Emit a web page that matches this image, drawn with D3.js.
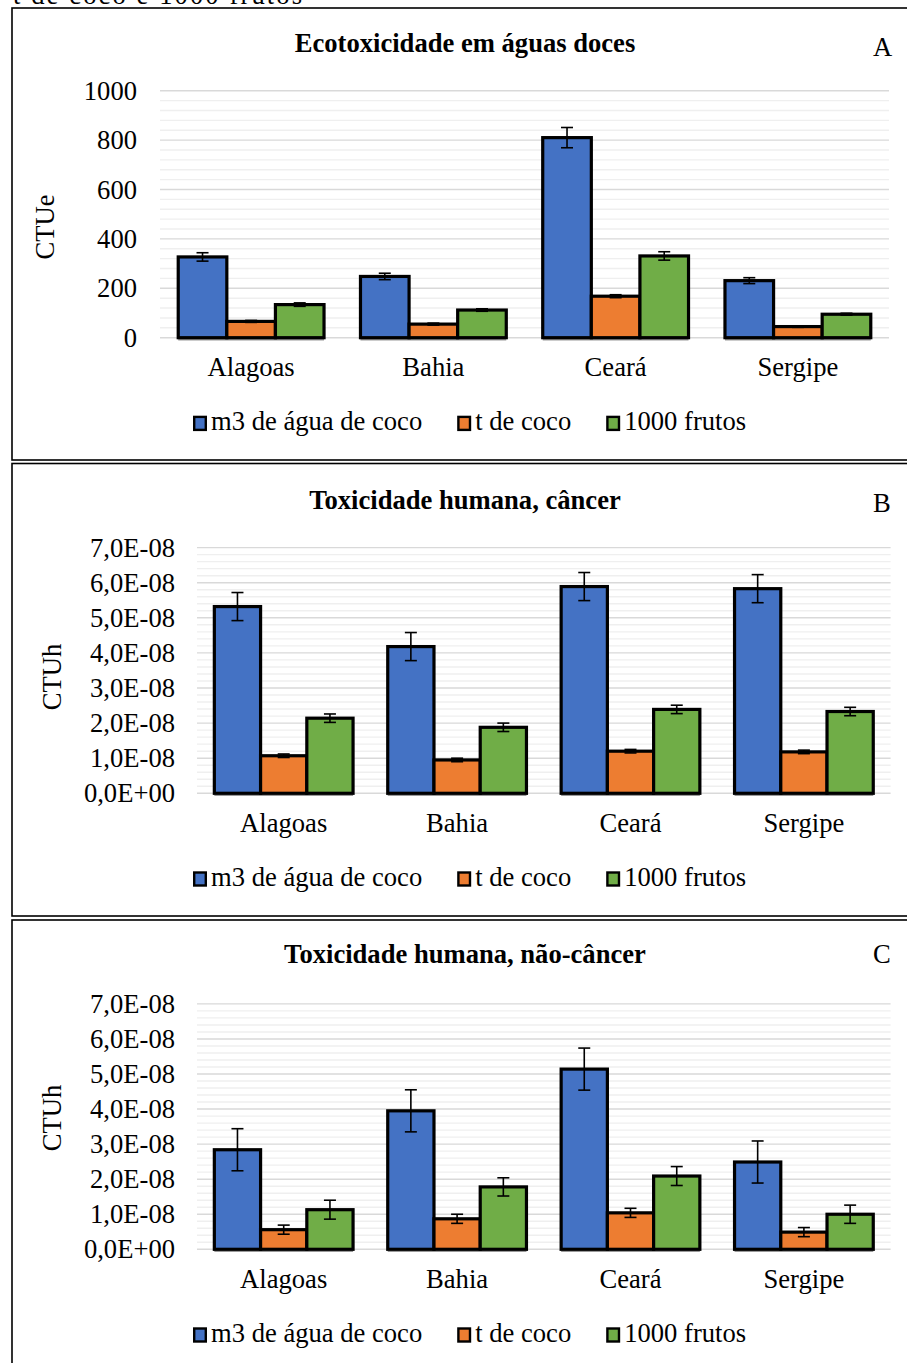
<!DOCTYPE html>
<html><head><meta charset="utf-8">
<script src="https://cdn.jsdelivr.net/npm/d3@7"></script>
<style>
body{margin:0;background:#fff}
svg{display:block}
text{font-family:"Liberation Serif","Times New Roman",serif;fill:#000}
</style>
</head><body>
<svg id="c" width="907" height="1363"></svg>
<script>
// ---------- data ----------
const categories = ["Alagoas", "Bahia", "Ceará", "Sergipe"];
const seriesNames = ["m3 de água de coco", "t de coco", "1000 frutos"];
const seriesColors = ["#4472C4", "#ED7D31", "#70AD47"];

// A: Ecotoxicidade em águas doces (CTUe)
const ecoM3 = [327, 248, 810, 231];
const ecoM3Err = [17, 13, 41, 12];
const ecoT = [66, 55, 168, 45];
const ecoTErr = [4, 4, 6, 3];
const ecoFrutos = [134, 112, 331, 95];
const ecoFrutosErr = [7, 5, 17, 4];
const ecoTicks = [0, 200, 400, 600, 800, 1000];
const ecoMinorTicks = d3.range(0, 1001, 40);

// B: Toxicidade humana, câncer (CTUh)
const canM3 = [5.32e-8, 4.18e-8, 5.89e-8, 5.83e-8];
const canM3Err = [0.40e-8, 0.40e-8, 0.40e-8, 0.40e-8];
const canT = [1.07e-8, 0.95e-8, 1.20e-8, 1.18e-8];
const canTErr = [0.05e-8, 0.05e-8, 0.05e-8, 0.05e-8];
const canFrutos = [2.14e-8, 1.88e-8, 2.39e-8, 2.33e-8];
const canFrutosErr = [0.12e-8, 0.12e-8, 0.12e-8, 0.12e-8];

// C: Toxicidade humana, não-câncer (CTUh)
const ncM3 = [2.84e-8, 3.95e-8, 5.14e-8, 2.49e-8];
const ncM3Err = [0.60e-8, 0.60e-8, 0.60e-8, 0.60e-8];
const ncT = [0.56e-8, 0.87e-8, 1.04e-8, 0.49e-8];
const ncTErr = [0.13e-8, 0.13e-8, 0.13e-8, 0.13e-8];
const ncFrutos = [1.13e-8, 1.78e-8, 2.09e-8, 1.00e-8];
const ncFrutosErr = [0.27e-8, 0.26e-8, 0.27e-8, 0.26e-8];

const humTicks = [0, 1e-8, 2e-8, 3e-8, 4e-8, 5e-8, 6e-8, 7e-8];
const humMinorTicks = d3.range(0, 36).map(i => i * 0.2e-8);

const titles = ["Ecotoxicidade em águas doces", "Toxicidade humana, câncer", "Toxicidade humana, não-câncer"];
const letters = ["A", "B", "C"];
const axisTitles = ["CTUe", "CTUh", "CTUh"];
const captionText = "t de coco e 1000 frutos";

// ---------- helpers ----------
function sciFmt(d) {
  const s = d.toExponential(1); // e.g. "7.0e-8"
  const [m, e] = s.split("e");
  const n = parseInt(e, 10);
  const sign = n < 0 ? "-" : "+";
  const ab = String(Math.abs(n)).padStart(2, "0");
  return m.replace(".", ",") + "E" + sign + ab;
}

const FS = 26.6;
const svg = d3.select("#c");
svg.append("rect").attr("width", 907).attr("height", 1363).attr("fill", "#fff");

// caption cut at top (as in the reference)
svg.append("text").attr("x", 13).attr("y", 4).attr("font-size", FS)
  .attr("textLength", 289).attr("lengthAdjust", "spacing").text(captionText);

const panels = [
  {
    box: [12, 8, 1000, 452],
    plot: {x0: 160, x1: 889, yb: 337.7, yt: 90.7},
    domain: [0, 1000], ticks: ecoTicks, minor: ecoMinorTicks, fmt: d => String(d),
    tickRight: 137, axisTitlePos: [54, 227],
    titleY: 52, letterY: 56,
    vals: [ecoM3, ecoT, ecoFrutos], errs: [ecoM3Err, ecoTErr, ecoFrutosErr]
  },
  {
    box: [12, 463.5, 1000, 452.5],
    plot: {x0: 197, x1: 890.6, yb: 793.3, yt: 547.6},
    domain: [0, 7e-8], ticks: humTicks, minor: humMinorTicks, fmt: sciFmt,
    tickRight: 175, axisTitlePos: [61, 677],
    titleY: 509, letterY: 512,
    vals: [canM3, canT, canFrutos], errs: [canM3Err, canTErr, canFrutosErr]
  },
  {
    box: [12, 920, 1000, 600],
    plot: {x0: 197, x1: 890.6, yb: 1249.3, yt: 1003.9},
    domain: [0, 7e-8], ticks: humTicks, minor: humMinorTicks, fmt: sciFmt,
    tickRight: 175, axisTitlePos: [61, 1118],
    titleY: 963, letterY: 963,
    vals: [ncM3, ncT, ncFrutos], errs: [ncM3Err, ncTErr, ncFrutosErr]
  }
];

panels.forEach((p, pi) => {
  const g = svg.append("g");
  const P = p.plot;
  // border
  g.append("rect").attr("x", p.box[0]).attr("y", p.box[1]).attr("width", p.box[2]).attr("height", p.box[3])
    .attr("fill", "none").attr("stroke", "#000").attr("stroke-width", 1.6);

  // title & letter
  g.append("text").attr("x", 465).attr("y", p.titleY).attr("text-anchor", "middle")
    .attr("font-size", FS).attr("font-weight", "bold").text(titles[pi]);
  g.append("text").attr("x", 873).attr("y", p.letterY).attr("font-size", FS).text(letters[pi]);

  const y = d3.scaleLinear().domain(p.domain).range([P.yb, P.yt]);
  const isMajor = v => p.ticks.some(t => Math.abs(t - v) < (p.domain[1] * 1e-6));

  // minor gridlines
  g.selectAll(".mg").data(p.minor.filter(v => !isMajor(v))).join("line")
    .attr("x1", P.x0).attr("x2", P.x1).attr("y1", d => y(d)).attr("y2", d => y(d))
    .attr("stroke", "#efefef").attr("stroke-width", 1.4);
  // major gridlines
  g.selectAll(".Mg").data(p.ticks).join("line")
    .attr("x1", P.x0).attr("x2", P.x1).attr("y1", d => y(d)).attr("y2", d => y(d))
    .attr("stroke", "#d9d9d9").attr("stroke-width", 1.4);

  // y tick labels
  g.selectAll(".yt").data(p.ticks).join("text")
    .attr("x", p.tickRight).attr("y", d => y(d)).attr("dy", "0.34em")
    .attr("text-anchor", "end").attr("font-size", FS).text(p.fmt);

  // axis title
  g.append("text").attr("transform", `translate(${p.axisTitlePos[0]},${p.axisTitlePos[1]}) rotate(-90)`)
    .attr("text-anchor", "middle").attr("font-size", FS).text(axisTitles[pi]);

  const x0 = d3.scaleBand().domain(categories).range([P.x0, P.x1]).paddingInner(0.2).paddingOuter(0.1);
  const x1 = d3.scaleBand().domain([0, 1, 2]).range([0, x0.bandwidth()]).padding(0);

  // shadow line under groups
  g.selectAll(".sh").data(categories).join("line")
    .attr("x1", d => x0(d)).attr("x2", d => x0(d) + x0.bandwidth())
    .attr("y1", P.yb + 2).attr("y2", P.yb + 2)
    .attr("stroke", "#9a9a9a").attr("stroke-width", 1.5);

  const flat = [];
  categories.forEach((c, ci) => {
    [0, 1, 2].forEach(si => flat.push({c, ci, si, v: p.vals[si][ci], e: p.errs[si][ci]}));
  });

  g.selectAll(".bar").data(flat).join("rect")
    .attr("x", d => x0(d.c) + x1(d.si)).attr("width", x1.bandwidth())
    .attr("y", d => y(d.v)).attr("height", d => y(0) - y(d.v))
    .attr("fill", d => seriesColors[d.si]).attr("stroke", "#000").attr("stroke-width", 3.2);

  // error bars
  const eb = g.selectAll(".eb").data(flat).join("g");
  const cx = d => x0(d.c) + x1(d.si) + x1.bandwidth() / 2;
  eb.append("line").attr("x1", cx).attr("x2", cx)
    .attr("y1", d => y(d.v + d.e)).attr("y2", d => y(d.v - d.e))
    .attr("stroke", "#000").attr("stroke-width", 1.6);
  eb.append("line").attr("x1", d => cx(d) - 6).attr("x2", d => cx(d) + 6)
    .attr("y1", d => y(d.v + d.e)).attr("y2", d => y(d.v + d.e))
    .attr("stroke", "#000").attr("stroke-width", 1.6);
  eb.append("line").attr("x1", d => cx(d) - 6).attr("x2", d => cx(d) + 6)
    .attr("y1", d => y(d.v - d.e)).attr("y2", d => y(d.v - d.e))
    .attr("stroke", "#000").attr("stroke-width", 1.6);

  // category labels
  g.selectAll(".cl").data(categories).join("text")
    .attr("x", d => x0(d) + x0.bandwidth() / 2).attr("y", P.yb + 38.5)
    .attr("text-anchor", "middle").attr("font-size", FS).text(d => d);

  // legend
  const ly = P.yb + 92.7;
  let lx = 193;
  seriesNames.forEach((name, si) => {
    g.append("rect").attr("x", lx + 1.2).attr("y", ly - 13.5).attr("width", 11.6).attr("height", 13)
      .attr("fill", seriesColors[si]).attr("stroke", "#000").attr("stroke-width", 2.4);
    const t = g.append("text").attr("x", lx + 18).attr("y", ly).attr("font-size", FS).text(name);
    const w = t.node().getComputedTextLength();
    lx = lx + 18 + w + 35;
  });
});
</script>
</body></html>
